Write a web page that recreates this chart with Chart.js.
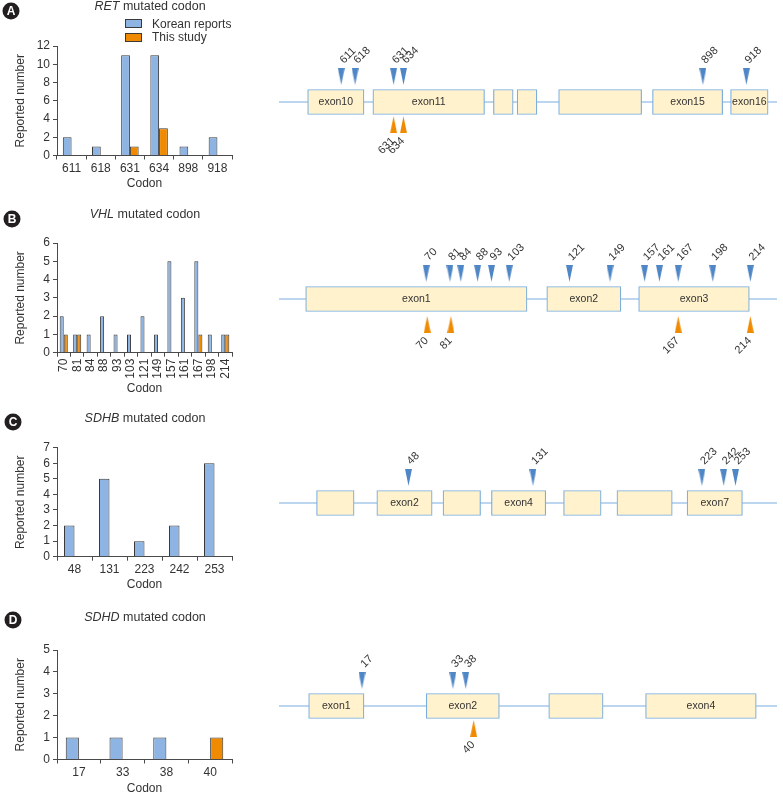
<!DOCTYPE html>
<html><head><meta charset="utf-8">
<script src="https://cdn.jsdelivr.net/npm/chart.js@4.4.0/dist/chart.umd.min.js"></script>
<style>
html,body{margin:0;padding:0;background:#fff;}
#wrap{position:relative;width:783px;height:793px;overflow:hidden;font-family:"Liberation Sans",Arial,Helvetica,sans-serif;color:#333;}
#wrap canvas{position:absolute;}
.title{position:absolute;font-size:12.5px;white-space:nowrap;transform:translate(-50%,-50%);line-height:1;}
.badge{position:absolute;width:17px;height:17px;border-radius:50%;background:#231f20;color:#fff;font-weight:bold;font-size:12px;text-align:center;line-height:17px;transform:translate(-50%,-50%);}
#legendA{position:absolute;left:125px;top:17px;font-size:12px;line-height:1;}
#legendA .row{display:flex;align-items:center;height:13.5px;}
#legendA .box{width:15px;height:7px;margin-right:10px;}
</style>
</head><body>
<div id="wrap">
  <canvas id="barA"></canvas><canvas id="barB"></canvas><canvas id="barC"></canvas><canvas id="barD"></canvas>
  <canvas id="geneA"></canvas><canvas id="geneB"></canvas><canvas id="geneC"></canvas><canvas id="geneD"></canvas>
  <div class="badge" style="left:11px;top:11px;">A</div>
  <div class="badge" style="left:12px;top:219px;">B</div>
  <div class="badge" style="left:13px;top:422px;">C</div>
  <div class="badge" style="left:13px;top:620px;">D</div>
  <div class="title" style="left:150px;top:6px;"><i>RET</i> mutated codon</div>
  <div class="title" style="left:145px;top:214px;"><i>VHL</i> mutated codon</div>
  <div class="title" style="left:145px;top:418px;"><i>SDHB</i> mutated codon</div>
  <div class="title" style="left:145px;top:617px;"><i>SDHD</i> mutated codon</div>
  <div id="legendA"></div>
</div>
<script>
// ---------------- data ----------------
const seriesNames = ['Korean reports', 'This study'];

const retCodons = ['611','618','631','634','898','918'];
const retKorean = [2,1,11,11,1,2];
const retStudy  = [null,null,1,3,null,null];

const vhlCodons = ['70','81','84','88','93','103','121','149','157','161','167','198','214'];
const vhlKorean = [2,1,1,2,1,1,2,1,5,3,5,1,1];
const vhlStudy  = [1,1,null,null,null,null,null,null,null,null,1,null,1];

const sdhbCodons = ['48','131','223','242','253'];
const sdhbKorean = [2,5,1,2,6];
const sdhbStudy  = [null,null,null,null,null];

const sdhdCodons = ['17','33','38','40'];
const sdhdKorean = [1,1,1,null];
const sdhdStudy  = [null,null,null,1];

// gene diagrams: exon extents and mutation positions along a relative diagram axis (0-504)
const retExons = [[29,86],[95,208],[217,237],[241,261],[283,367],[378,449],[457,495]];
const retExonNames = ['exon10','exon11','','','','exon15','exon16'];
const retKoreanPos = [63,77,116,126,429,473];
const retKoreanMarks = ['611','618','631','634','898','918'];
const retStudyPos = [116,126];
const retStudyMarks = ['631','634'];

const vhlExons = [[27,251],[271,346],[364,476]];
const vhlExonNames = ['exon1','exon2','exon3'];
const vhlKoreanPos = [149,173,184,201,215,233,294,335,370,385,404,439,477];
const vhlKoreanMarks = ['70','81','84','88','93','103','121','149','157','161','167','198','214'];
const vhlStudyPos = [150,174,404,477];
const vhlStudyMarks = ['70','81','167','214'];

const sdhbExons = [[38,76],[99,155],[166,204],[215,270],[288,326],[342,398],[413,469]];
const sdhbExonNames = ['','exon2','','exon4','','','exon7'];
const sdhbKoreanPos = [131,257,428,450,462];
const sdhbKoreanMarks = ['48','131','223','242','253'];
const sdhbStudyPos = [];
const sdhbStudyMarks = [];

const sdhdExons = [[30,86],[149,223],[273,328],[371,483]];
const sdhdExonNames = ['exon1','exon2','','exon4'];
const sdhdKoreanPos = [84,176,189];
const sdhdKoreanMarks = ['17','33','38'];
const sdhdStudyPos = [197];
const sdhdStudyMarks = ['40'];

// ---------------- styles ----------------
const FF = '"Liberation Sans", Arial, Helvetica, sans-serif';
const TXT = '#333333';
const AX = '#4a4a4a';
const BLUE = '#8db4e2';
const ORANGE = '#f08a00';
const EDGE = '#3a3a3a';
const GENE_LINE = '#7aaedf';
const EXON_FILL = '#fff2cc';
const MARK_BLUE = '#4f86c6';
const MARK_ORANGE = '#f08a00';

// ---------------- bar charts ----------------
function makeBar(id, cats, kor, stu, yMax, step, rot, L) {
  const cv = document.getElementById(id);
  cv.width = 245; cv.height = Math.round(L.bottom - L.top);
  cv.style.left = '0px'; cv.style.top = L.top + 'px';
  const tickFont = {size: 12, family: FF};
  return new Chart(cv, {
    type: 'bar',
    data: {labels: cats, datasets: [
      {label: seriesNames[0], data: kor, backgroundColor: BLUE, borderColor: EDGE, borderWidth: 1,
       categoryPercentage: 0.6, barPercentage: 1},
      {label: seriesNames[1], data: stu, backgroundColor: ORANGE, borderColor: EDGE, borderWidth: 1,
       categoryPercentage: 0.6, barPercentage: 1}
    ]},
    options: {
      responsive: false, animation: false, events: [],
      layout: {padding: {top: L.plotTop - L.top, right: 13, left: 0, bottom: 0}},
      plugins: {legend: {display: false}, tooltip: {enabled: false}},
      scales: {
        x: {
          offset: true,
          grid: {offset: true, display: true, drawOnChartArea: false, drawTicks: true, tickLength: 4, color: AX},
          border: {display: true, color: AX, width: 1},
          ticks: {color: TXT, font: tickFont, padding: 2, minRotation: rot, maxRotation: rot, autoSkip: false},
          title: {display: true, text: 'Codon', color: TXT, font: tickFont, padding: {top: 0, bottom: 0}},
          afterFit: (s) => { s.height = L.bottom - L.plotBottom; }
        },
        y: {
          min: 0, max: yMax,
          grid: {display: true, drawOnChartArea: false, drawTicks: true, tickLength: 4, color: AX},
          border: {display: true, color: AX, width: 1},
          ticks: {stepSize: step, color: TXT, font: tickFont, padding: 3, autoSkip: false},
          title: {display: true, text: 'Reported number', color: TXT, font: tickFont, padding: {top: 13, bottom: 0}},
          afterFit: (s) => { s.width = 57; }
        }
      }
    }
  });
}

const chartA = makeBar('barA', retCodons, retKorean, retStudy, 12, 2, 0, {top: 0, plotTop: 46, plotBottom: 155, bottom: 190.5});
makeBar('barB', vhlCodons, vhlKorean, vhlStudy, 6, 1, 90, {top: 200, plotTop: 243, plotBottom: 352.7, bottom: 396});
makeBar('barC', sdhbCodons, sdhbKorean, sdhbStudy, 7, 1, 0, {top: 400, plotTop: 447.7, plotBottom: 556.7, bottom: 592});
makeBar('barD', sdhdCodons, sdhdKorean, sdhdStudy, 5, 1, 0, {top: 600, plotTop: 650, plotBottom: 759, bottom: 795.5});

// HTML legend built from chart A datasets
(function () {
  const box = document.getElementById('legendA');
  chartA.data.datasets.forEach(ds => {
    const row = document.createElement('div'); row.className = 'row';
    const sw = document.createElement('span'); sw.className = 'box';
    sw.style.background = ds.backgroundColor; sw.style.border = '1px solid ' + ds.borderColor;
    const tx = document.createElement('span'); tx.textContent = ds.label;
    row.appendChild(sw); row.appendChild(tx); box.appendChild(row);
  });
})();

// ---------------- gene diagrams ----------------
function triangle(color, w, h, down) {
  const c = document.createElement('canvas'); c.width = w; c.height = h;
  const g = c.getContext('2d'); g.fillStyle = color; g.beginPath();
  if (down) { g.moveTo(0, 0); g.lineTo(w, 0); g.lineTo(w / 2, h); }
  else { g.moveTo(w / 2, 0); g.lineTo(w, h); g.lineTo(0, h); }
  g.closePath(); g.fill(); return c;
}
const TRI_W = 7, TRI_H = 17;
const triBlue = triangle(MARK_BLUE, TRI_W, TRI_H, true);
const triOrange = triangle(MARK_ORANGE, TRI_W, TRI_H, false);

const geneLabels = {
  id: 'geneLabels',
  afterDatasetsDraw(chart) {
    const ctx = chart.ctx;
    chart.data.datasets.forEach((ds, i) => {
      const meta = chart.getDatasetMeta(i);
      if (ds.exonLabel) {
        const c = meta.data[0].getCenterPoint();
        ctx.save();
        ctx.font = '10.5px ' + FF; ctx.fillStyle = TXT;
        ctx.textAlign = 'center'; ctx.textBaseline = 'middle';
        ctx.fillText(ds.exonLabel, c.x, c.y + 0.5);
        ctx.restore();
      }
      if (ds.markLabels) {
        meta.data.forEach((pt, j) => {
          ctx.save();
          ctx.font = '11px ' + FF; ctx.fillStyle = TXT; ctx.textBaseline = 'middle';
          if (ds.side === 'up') {
            ctx.translate(pt.x + 0.5, pt.y - TRI_H / 2 - 6);
            ctx.rotate(-Math.PI / 4); ctx.textAlign = 'left';
          } else {
            ctx.translate(pt.x - 0.5, pt.y + TRI_H / 2 + 6);
            ctx.rotate(-Math.PI / 4); ctx.textAlign = 'right';
          }
          ctx.fillText(ds.markLabels[j], 0, 0);
          ctx.restore();
        });
      }
    });
  }
};

function makeGene(id, top, exons, names, upPos, upMarks, dnPos, dnMarks, dnY) {
  const cv = document.getElementById(id);
  cv.width = 513; cv.height = 120;
  cv.style.left = '270px'; cv.style.top = top + 'px';
  const datasets = [];
  datasets.push({type: 'line', data: [{x: 0, y: 0}, {x: 504, y: 0}], borderColor: GENE_LINE, borderWidth: 1.2,
                 pointRadius: 0, showLine: true, fill: false, order: 3, xAxisID: 'x', yAxisID: 'y'});
  exons.forEach((e, i) => datasets.push({
    type: 'bar', indexAxis: 'y', grouped: false, data: [{x: e, y: 'g'}], exonLabel: names[i],
    backgroundColor: EXON_FILL, borderColor: GENE_LINE, borderWidth: 1.2, borderSkipped: false,
    barThickness: 25, maxBarThickness: 25, xAxisID: 'x', yAxisID: 'yc', order: 2
  }));
  datasets.push({type: 'scatter', data: upPos.map(p => ({x: p, y: 28.6})), markLabels: upMarks, side: 'up',
                 pointStyle: triBlue, pointRadius: 5, order: 1, xAxisID: 'x', yAxisID: 'y'});
  if (dnPos.length) datasets.push({type: 'scatter', data: dnPos.map(p => ({x: p, y: dnY})), markLabels: dnMarks, side: 'down',
                 pointStyle: triOrange, pointRadius: 5, order: 1, xAxisID: 'x', yAxisID: 'y'});
  return new Chart(cv, {
    type: 'scatter',
    data: {datasets},
    options: {
      responsive: false, animation: false, events: [],
      layout: {padding: {left: 9, right: 0, top: 0, bottom: 0}},
      plugins: {legend: {display: false}, tooltip: {enabled: false}},
      scales: {
        x: {type: 'linear', min: 0, max: 504, display: false},
        y: {type: 'linear', axis: 'y', min: -60, max: 60, display: false},
        yc: {type: 'category', axis: 'y', labels: ['g'], offset: true, display: false}
      }
    },
    plugins: [geneLabels]
  });
}

makeGene('geneA', 42, retExons, retExonNames, retKoreanPos, retKoreanMarks, retStudyPos, retStudyMarks, -25.3);
makeGene('geneB', 239, vhlExons, vhlExonNames, vhlKoreanPos, vhlKoreanMarks, vhlStudyPos, vhlStudyMarks, -28.4);
makeGene('geneC', 443, sdhbExons, sdhbExonNames, sdhbKoreanPos, sdhbKoreanMarks, sdhbStudyPos, sdhbStudyMarks, -25.3);
makeGene('geneD', 646, sdhdExons, sdhdExonNames, sdhdKoreanPos, sdhdKoreanMarks, sdhdStudyPos, sdhdStudyMarks, -25.1);
</script>
</body></html>
